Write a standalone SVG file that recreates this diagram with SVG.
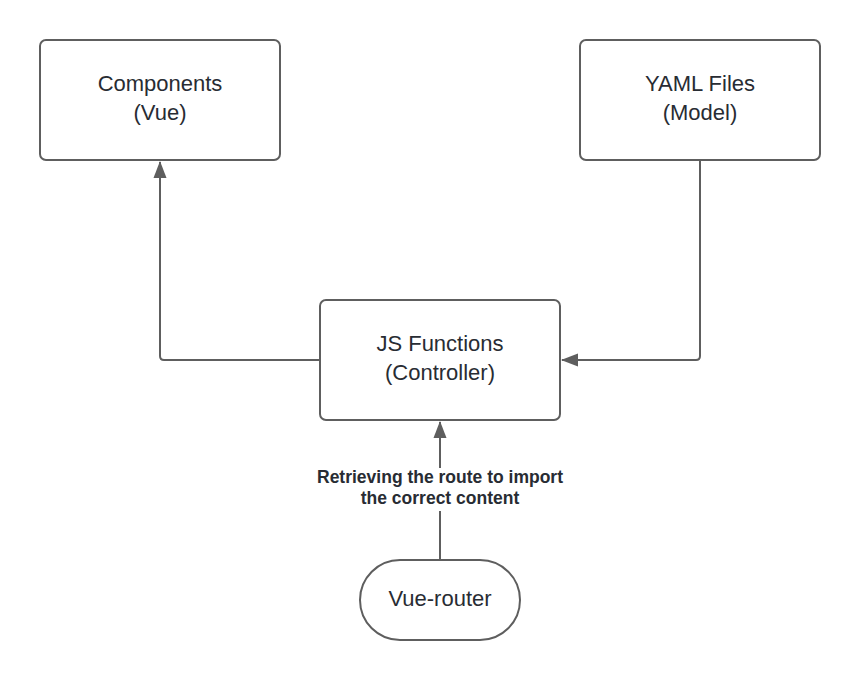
<svg xmlns="http://www.w3.org/2000/svg" width="860" height="680" viewBox="0 0 860 680">
<style>
.node{fill:#ffffff;stroke:#5e5e5e;stroke-width:2}
.t{font-family:"Liberation Sans",Arial,sans-serif;font-size:22px;fill:#282c33;text-anchor:middle}
.lbl{font-family:"Liberation Sans",Arial,sans-serif;font-size:17.5px;font-weight:bold;fill:#282c33;text-anchor:middle}
.c{fill:none;stroke:#5e5e5e;stroke-width:2}
</style>
<defs>
<marker id="ah" viewBox="0 0 17 14" refX="16" refY="7" markerWidth="17" markerHeight="14" markerUnits="userSpaceOnUse" orient="auto">
<path d="M0,0.5 L17,7 L0,13.5 Z" fill="#5e5e5e"/>
</marker>
</defs>
<rect width="860" height="680" fill="#ffffff"/>
<g id="connectors">
<path class="c" d="M320,360 L164,360 Q160,360 160,356 L160,162" marker-end="url(#ah)"/>
<path class="c" d="M700,160 L700,356 Q700,360 696,360 L562,360" marker-end="url(#ah)"/>
<path class="c" d="M440,560 L440,422" marker-end="url(#ah)"/>
<rect x="300" y="468" width="280" height="43" fill="#ffffff"/>
<text class="lbl" x="440" y="483">Retrieving the route to import</text>
<text class="lbl" x="440" y="504">the correct content</text>
</g>
<g id="components">
<rect class="node" x="40" y="40" width="240" height="120" rx="6"/>
<text class="t" x="160" y="91">Components</text>
<text class="t" x="160" y="120">(Vue)</text>
</g>
<g id="yaml">
<rect class="node" x="580" y="40" width="240" height="120" rx="6"/>
<text class="t" x="700" y="91">YAML Files</text>
<text class="t" x="700" y="120">(Model)</text>
</g>
<g id="js">
<rect class="node" x="320" y="300" width="240" height="120" rx="6"/>
<text class="t" x="440" y="351">JS Functions</text>
<text class="t" x="440" y="380">(Controller)</text>
</g>
<g id="router">
<rect class="node" x="360" y="560" width="160" height="80" rx="40"/>
<text class="t" x="440" y="606">Vue-router</text>
</g>
</svg>
